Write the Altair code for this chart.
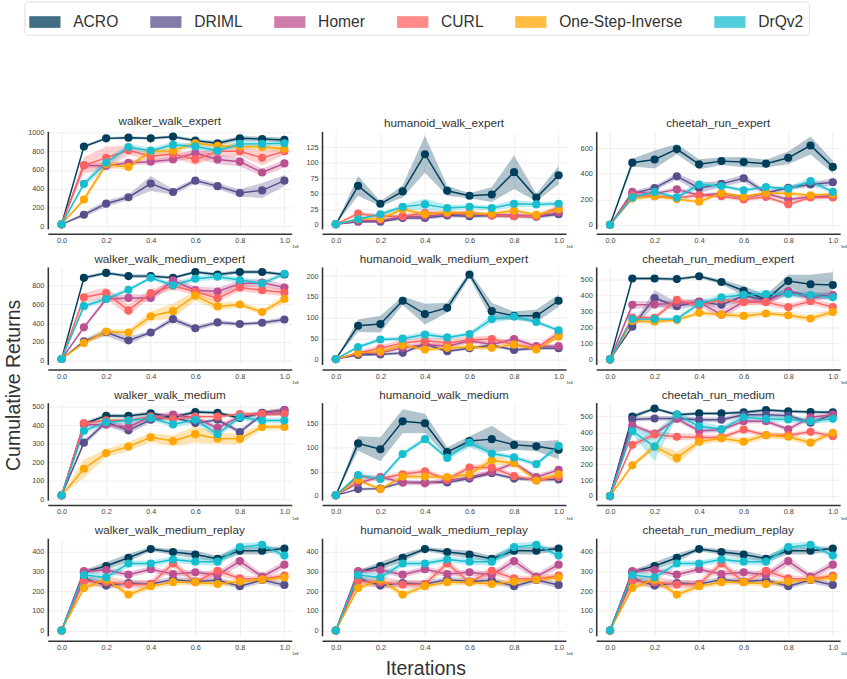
import altair as alt
import pandas as pd

# ---- shared axes / series ----
ITER = [0.0, 0.1, 0.2, 0.3, 0.4, 0.5, 0.6, 0.7, 0.8, 0.9, 1.0]
METHODS = ["ACRO", "DRIML", "Homer", "CURL", "One-Step-Inverse", "DrQv2"]
COLORS = ["#003f5c", "#58508d", "#bc5090", "#ff6361", "#ffa600", "#17becf"]
X_TICKS = [0.0, 0.2, 0.4, 0.6, 0.8, 1.0]

# ---- walker_walk_expert ----
wwe_mean = {
    "ACRO": [20, 850, 937, 944, 937, 955, 913, 885, 937, 930, 920],
    "DRIML": [20, 122, 240, 309, 455, 365, 486, 427, 354, 382, 486],
    "Homer": [20, 649, 642, 677, 688, 712, 781, 712, 688, 573, 670],
    "CURL": [20, 649, 729, 809, 747, 771, 712, 799, 799, 729, 799],
    "One-Step-Inverse": [20, 285, 660, 632, 799, 806, 885, 858, 851, 844, 826],
    "DrQv2": [20, 451, 677, 844, 806, 868, 851, 806, 878, 878, 885],
}
wwe_sd = {
    "ACRO": [0, 15, 15, 15, 15, 15, 20, 25, 25, 25, 25],
    "DRIML": [0, 25, 35, 30, 80, 30, 30, 30, 40, 80, 60],
    "Homer": [0, 30, 30, 30, 30, 30, 50, 50, 50, 40, 40],
    "CURL": [0, 90, 120, 50, 50, 40, 60, 60, 50, 80, 40],
    "One-Step-Inverse": [0, 30, 40, 30, 30, 30, 30, 30, 30, 30, 30],
    "DrQv2": [0, 30, 50, 30, 30, 30, 30, 30, 30, 30, 30],
}

# ---- humanoid_walk_expert ----
hwe_mean = {
    "ACRO": [1, 63, 34, 54, 114, 55, 47, 49, 85, 44, 80],
    "DRIML": [1, 5, 5, 11, 11, 15, 14, 15, 14, 13, 17],
    "Homer": [1, 6, 7, 13, 14, 17, 17, 16, 16, 14, 20],
    "CURL": [1, 18, 14, 14, 19, 19, 20, 15, 14, 14, 28],
    "One-Step-Inverse": [1, 9, 10, 25, 17, 20, 18, 18, 23, 16, 25],
    "DrQv2": [1, 9, 17, 29, 33, 27, 29, 27, 34, 33, 34],
}
hwe_sd = {
    "ACRO": [0, 16, 4, 10, 30, 8, 4, 12, 27, 6, 15],
    "DRIML": [0, 2, 2, 3, 3, 3, 3, 3, 3, 3, 3],
    "Homer": [0, 2, 2, 3, 3, 3, 3, 3, 3, 3, 4],
    "CURL": [0, 4, 3, 3, 4, 3, 3, 3, 3, 3, 4],
    "One-Step-Inverse": [0, 3, 3, 4, 3, 3, 3, 3, 3, 3, 4],
    "DrQv2": [0, 3, 3, 4, 9, 5, 4, 4, 6, 4, 4],
}

# ---- cheetah_run_expert ----
cre_mean = {
    "ACRO": [0, 486, 511, 592, 473, 498, 491, 478, 524, 620, 453],
    "DRIML": [0, 244, 287, 379, 287, 320, 364, 249, 290, 315, 333],
    "Homer": [0, 257, 244, 277, 231, 244, 214, 244, 198, 219, 226],
    "CURL": [0, 231, 224, 211, 231, 224, 198, 219, 160, 214, 214],
    "One-Step-Inverse": [0, 206, 224, 201, 181, 249, 219, 249, 244, 231, 239],
    "DrQv2": [0, 214, 257, 214, 315, 303, 270, 295, 282, 341, 257],
}
cre_sd = {
    "ACRO": [0, 30, 70, 40, 40, 30, 40, 30, 50, 70, 50],
    "DRIML": [0, 20, 20, 25, 40, 25, 30, 20, 20, 20, 30],
    "Homer": [0, 15, 15, 20, 15, 15, 15, 15, 15, 15, 15],
    "CURL": [0, 15, 15, 15, 15, 15, 15, 15, 15, 15, 15],
    "One-Step-Inverse": [0, 15, 15, 15, 15, 15, 15, 15, 15, 15, 15],
    "DrQv2": [0, 15, 15, 15, 30, 15, 15, 15, 15, 30, 15],
}

# ---- walker_walk_medium_expert ----
wwme_mean = {
    "ACRO": [20, 879, 931, 897, 897, 879, 941, 914, 941, 941, 914],
    "DRIML": [20, 207, 303, 217, 300, 441, 345, 407, 390, 403, 438],
    "Homer": [20, 355, 655, 666, 666, 852, 748, 734, 817, 828, 776],
    "CURL": [20, 672, 717, 534, 717, 793, 734, 662, 776, 748, 724],
    "One-Step-Inverse": [20, 190, 310, 300, 472, 528, 690, 576, 597, 517, 655],
    "DrQv2": [20, 579, 655, 752, 879, 800, 869, 890, 855, 821, 921],
}
wwme_sd = {
    "ACRO": [0, 20, 15, 20, 20, 15, 15, 20, 20, 20, 15],
    "DRIML": [0, 20, 40, 40, 20, 30, 25, 25, 20, 20, 30],
    "Homer": [0, 20, 30, 40, 40, 40, 40, 40, 40, 40, 40],
    "CURL": [0, 50, 60, 60, 40, 40, 40, 40, 40, 40, 40],
    "One-Step-Inverse": [0, 25, 30, 30, 50, 80, 50, 40, 30, 30, 40],
    "DrQv2": [0, 30, 30, 20, 20, 30, 30, 30, 30, 30, 20],
}

# ---- humanoid_walk_medium_expert ----
hwme_mean = {
    "ACRO": [1, 81, 85, 141, 109, 124, 204, 116, 105, 105, 141],
    "DRIML": [1, 11, 12, 16, 37, 20, 27, 34, 23, 27, 27],
    "Homer": [1, 14, 16, 28, 36, 32, 45, 36, 49, 32, 32],
    "CURL": [1, 16, 27, 40, 45, 40, 47, 49, 36, 28, 63],
    "One-Step-Inverse": [1, 16, 19, 34, 24, 28, 30, 28, 36, 24, 55],
    "DrQv2": [1, 30, 48, 50, 60, 53, 61, 97, 103, 90, 70],
}
hwme_sd = {
    "ACRO": [0, 15, 20, 10, 25, 12, 8, 20, 10, 15, 15],
    "DRIML": [0, 3, 3, 4, 5, 4, 4, 4, 4, 4, 4],
    "Homer": [0, 4, 4, 5, 5, 5, 6, 5, 6, 5, 5],
    "CURL": [0, 5, 8, 8, 8, 10, 8, 8, 6, 6, 8],
    "One-Step-Inverse": [0, 4, 4, 5, 5, 5, 5, 5, 5, 5, 6],
    "DrQv2": [0, 4, 5, 5, 8, 5, 5, 10, 6, 5, 5],
}

# ---- cheetah_run_medium_expert ----
crme_mean = {
    "ACRO": [0, 506, 506, 502, 520, 484, 429, 374, 490, 470, 465],
    "DRIML": [0, 205, 384, 333, 362, 341, 398, 372, 425, 398, 398],
    "Homer": [0, 341, 343, 352, 358, 280, 362, 362, 425, 384, 402],
    "CURL": [0, 262, 260, 372, 337, 374, 358, 358, 327, 364, 327],
    "One-Step-Inverse": [0, 240, 236, 246, 291, 280, 272, 287, 276, 256, 297],
    "DrQv2": [0, 252, 252, 252, 348, 388, 404, 409, 409, 402, 388],
}
crme_sd = {
    "ACRO": [0, 10, 10, 10, 10, 15, 30, 30, 40, 60, 80],
    "DRIML": [0, 15, 50, 25, 20, 20, 30, 30, 20, 20, 20],
    "Homer": [0, 25, 20, 20, 20, 30, 20, 20, 20, 20, 20],
    "CURL": [0, 15, 15, 20, 15, 15, 20, 20, 20, 20, 20],
    "One-Step-Inverse": [0, 15, 15, 10, 15, 15, 20, 15, 15, 20, 20],
    "DrQv2": [0, 15, 15, 10, 20, 20, 20, 20, 20, 20, 20],
}

# ---- walker_walk_medium ----
wwm_mean = {
    "ACRO": [21, 408, 452, 451, 465, 444, 472, 468, 440, 468, 482],
    "DRIML": [21, 306, 417, 373, 430, 444, 412, 430, 364, 458, 465],
    "Homer": [21, 405, 403, 391, 447, 458, 440, 386, 447, 465, 482],
    "CURL": [21, 412, 427, 427, 447, 433, 447, 447, 461, 461, 461],
    "One-Step-Inverse": [21, 165, 250, 285, 335, 315, 352, 329, 327, 391, 391],
    "DrQv2": [21, 370, 417, 426, 440, 405, 430, 352, 444, 426, 426],
}
wwm_sd = {
    "ACRO": [0, 10, 10, 10, 10, 10, 10, 10, 10, 10, 10],
    "DRIML": [0, 15, 15, 20, 15, 10, 10, 10, 15, 10, 10],
    "Homer": [0, 15, 15, 20, 15, 15, 15, 15, 15, 15, 15],
    "CURL": [0, 10, 10, 10, 10, 10, 10, 10, 10, 10, 10],
    "One-Step-Inverse": [0, 50, 20, 25, 25, 30, 45, 30, 30, 15, 15],
    "DrQv2": [0, 15, 15, 15, 15, 15, 20, 20, 15, 15, 15],
}

# ---- humanoid_walk_medium ----
hwm_mean = {
    "ACRO": [1, 109, 97, 155, 151, 91, 114, 118, 106, 103, 96],
    "DRIML": [1, 14, 15, 28, 28, 28, 36, 47, 36, 34, 34],
    "Homer": [1, 27, 39, 28, 26, 32, 39, 50, 68, 39, 54],
    "CURL": [1, 40, 36, 45, 51, 34, 59, 59, 41, 32, 39],
    "One-Step-Inverse": [1, 33, 14, 40, 40, 39, 45, 74, 68, 32, 45],
    "DrQv2": [1, 43, 35, 87, 118, 79, 111, 88, 80, 66, 104],
}
hwm_sd = {
    "ACRO": [0, 15, 25, 25, 20, 10, 10, 28, 10, 10, 20],
    "DRIML": [0, 3, 3, 4, 4, 4, 4, 4, 4, 4, 4],
    "Homer": [0, 5, 5, 5, 5, 5, 5, 5, 5, 5, 5],
    "CURL": [0, 5, 5, 6, 6, 5, 6, 6, 5, 5, 5],
    "One-Step-Inverse": [0, 5, 3, 5, 5, 5, 5, 10, 5, 5, 5],
    "DrQv2": [0, 5, 5, 5, 5, 5, 10, 5, 5, 5, 5],
}

# ---- cheetah_run_medium ----
crm_mean = {
    "ACRO": [0, 500, 551, 512, 520, 520, 527, 541, 533, 529, 527],
    "DRIML": [0, 482, 488, 488, 480, 480, 512, 512, 506, 461, 512],
    "Homer": [0, 445, 393, 486, 410, 418, 471, 471, 420, 496, 512],
    "CURL": [0, 322, 387, 373, 369, 369, 418, 383, 383, 404, 377],
    "One-Step-Inverse": [0, 193, 311, 240, 342, 363, 342, 383, 373, 336, 398],
    "DrQv2": [0, 408, 311, 512, 439, 420, 496, 486, 482, 471, 486],
}
crm_sd = {
    "ACRO": [0, 15, 10, 10, 10, 10, 10, 10, 10, 10, 10],
    "DRIML": [0, 15, 15, 15, 15, 15, 15, 15, 15, 15, 15],
    "Homer": [0, 15, 15, 15, 15, 15, 15, 15, 15, 15, 15],
    "CURL": [0, 20, 20, 20, 20, 15, 15, 15, 15, 15, 15],
    "One-Step-Inverse": [0, 15, 20, 40, 20, 20, 20, 20, 20, 20, 15],
    "DrQv2": [0, 20, 90, 20, 30, 20, 20, 20, 20, 20, 20],
}

# ---- *_medium_replay (same curves in all three tasks) ----
replay_mean = {
    "ACRO": [0, 296, 327, 369, 413, 398, 385, 364, 405, 405, 416],
    "DRIML": [0, 264, 228, 241, 236, 258, 248, 255, 225, 256, 231],
    "Homer": [0, 301, 307, 283, 311, 286, 295, 281, 352, 273, 334],
    "CURL": [0, 250, 245, 233, 236, 340, 245, 303, 264, 261, 278],
    "One-Step-Inverse": [0, 215, 258, 182, 225, 245, 245, 236, 248, 258, 269],
    "DrQv2": [0, 281, 269, 340, 340, 360, 349, 349, 423, 435, 380],
}
replay_sd = {
    "ACRO": [0, 10, 20, 20, 10, 15, 20, 15, 20, 20, 10],
    "DRIML": [0, 15, 15, 15, 15, 15, 15, 15, 15, 15, 15],
    "Homer": [0, 15, 15, 15, 15, 15, 15, 15, 25, 15, 20],
    "CURL": [0, 20, 30, 20, 20, 20, 20, 20, 15, 15, 15],
    "One-Step-Inverse": [0, 15, 15, 15, 15, 15, 15, 15, 15, 15, 15],
    "DrQv2": [0, 20, 20, 15, 15, 15, 15, 20, 20, 15, 15],
}

# (title, means, spreads, y-domain, y-ticks) laid out row by row
PANELS = [
    ("walker_walk_expert", wwe_mean, wwe_sd, [-29, 1012], [0, 200, 400, 600, 800, 1000]),
    ("humanoid_walk_expert", hwe_mean, hwe_sd, [-6.6, 151], [0, 25, 50, 75, 100, 125]),
    ("cheetah_run_expert", cre_mean, cre_sd, [-32, 731], [0, 200, 400, 600]),
    ("walker_walk_medium_expert", wwme_mean, wwme_sd, [-39, 994], [0, 200, 400, 600, 800]),
    ("humanoid_walk_medium_expert", hwme_mean, hwme_sd, [-12, 222], [0, 50, 100, 150, 200]),
    ("cheetah_run_medium_expert", crme_mean, crme_sd, [-32, 578], [0, 100, 200, 300, 400, 500]),
    ("walker_walk_medium", wwm_mean, wwm_sd, [-5, 523], [0, 100, 200, 300, 400, 500]),
    ("humanoid_walk_medium", hwm_mean, hwm_sd, [-9, 194], [0, 50, 100, 150]),
    ("cheetah_run_medium", crm_mean, crm_sd, [-26, 588], [0, 100, 200, 300, 400, 500]),
    ("walker_walk_medium_replay", replay_mean, replay_sd, [-27, 468], [0, 100, 200, 300, 400]),
    ("humanoid_walk_medium_replay", replay_mean, replay_sd, [-27, 468], [0, 100, 200, 300, 400]),
    ("cheetah_run_medium_replay", replay_mean, replay_sd, [-27, 468], [0, 100, 200, 300, 400]),
]

FONT = "Liberation Sans"
PANEL_W, PANEL_H = 250, 100

color_scale = alt.Scale(domain=METHODS, range=COLORS)
# legend box is placed relative to the first panel's plot origin
legend = alt.Legend(
    title=None,
    orient="none",
    direction="horizontal",
    columns=6,
    legendX=-24,
    legendY=-133,
    symbolType="M-1,-0.375L1,-0.375L1,0.375L-1,0.375Z",
    symbolSize=1024,
    symbolOpacity=0.75,
    symbolStrokeWidth=0,
    labelFontSize=16,
    labelFont=FONT,
    labelFontWeight="normal",
    labelColor="#333333",
    labelOffset=13,
    columnPadding=32,
    padding=5,
    strokeColor="#dddddd",
    cornerRadius=3,
    fillColor="#ffffff",
)
color_enc = alt.Color("method:N", scale=color_scale, legend=legend)


def panel(title, means, spreads, ydom, yticks):
    records = []
    for k, m in enumerate(METHODS):
        for x, v, s in zip(ITER, means[m], spreads[m]):
            records.append({"method": m, "k": k, "it": x, "ret": v,
                            "lo": v - s, "hi": v + s})
    df = pd.DataFrame(records)

    x_enc = alt.X(
        "it:Q",
        scale=alt.Scale(domain=[-0.062, 1.033], nice=False, zero=False),
        axis=alt.Axis(values=X_TICKS, format=".1f", title="1e6", titleFontSize=4,
                      titleAnchor="end", titleAlign="left", titleColor="#666666",
                      titlePadding=1, offset=5),
    )
    y_scale = alt.Scale(domain=ydom, nice=False, zero=False)
    y_axis = alt.Axis(values=yticks, title=None, format="d")
    y_enc = alt.Y("ret:Q", scale=y_scale, axis=y_axis)

    base = alt.Chart(df)
    band = base.mark_area(opacity=0.3, interpolate="linear").encode(
        x=x_enc,
        y=alt.Y("lo:Q", scale=y_scale, axis=y_axis),
        y2="hi:Q",
        color=color_enc,
        detail="method:N",
    )
    line = base.mark_line(strokeWidth=1.5).encode(
        x=x_enc, y=y_enc,
        color=color_enc,
        detail="method:N",
        order="it:Q",
    )
    pts = base.mark_point(filled=True, size=70, opacity=1).encode(
        x=x_enc, y=y_enc,
        color=color_enc,
        order="k:Q",
    )
    return alt.layer(band, line, pts).properties(
        width=PANEL_W, height=PANEL_H,
        title=alt.TitleParams(title, fontSize=12, font=FONT, color="#333333",
                              offset=1, fontWeight="normal"),
    )


rows = []
for r in range(4):
    cells = [panel(*PANELS[r * 3 + c]) for c in range(3)]
    rows.append(alt.hconcat(*cells, spacing=0).resolve_scale(x="independent", y="independent"))

grid = alt.vconcat(*rows, spacing=4).resolve_scale(x="independent", y="independent").properties(
    title=alt.TitleParams("Cumulative Returns", orient="left", anchor="middle", fontSize=20,
                          font=FONT, color="#333333", fontWeight="normal", offset=0)
)

chart = alt.vconcat(grid).properties(
    title=alt.TitleParams("Iterations", orient="bottom", anchor="middle", fontSize=20,
                          font=FONT, color="#333333", fontWeight="normal", offset=4),
    padding={"left": 4, "top": -8, "right": 0, "bottom": 4},
).configure_view(stroke=None).configure_axis(
    labelFont=FONT, labelFontSize=7.5, labelColor="#444444",
    gridColor="#eeeeee", gridWidth=1, domainColor="#333333", domainWidth=1.6,
    ticks=False, labelPadding=4,
).configure_axisY(minExtent=24, maxExtent=24).configure_axisX(
    labelPadding=3, labelFlush=False, labelOverlap=False
)

chart.save("out.html", embed_options={"renderer": "svg", "actions": False})
